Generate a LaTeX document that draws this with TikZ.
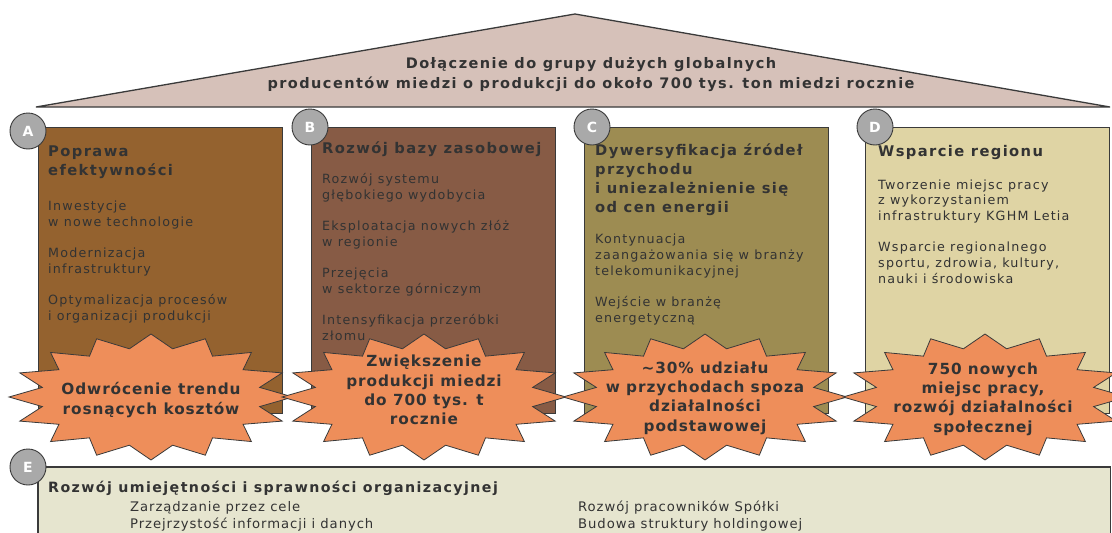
\documentclass[tikz,border=0pt]{standalone}
\usepackage{fontspec}
\setmainfont{DejaVu Sans}
\newfontfamily\mainsp[LetterSpace=9.5]{DejaVu Sans}
\newfontfamily\roofsp[LetterSpace=10]{DejaVu Sans}
\newfontfamily\starsp[LetterSpace=6]{DejaVu Sans}
\newfontfamily\barsp[LetterSpace=10]{DejaVu Sans}
\newfontfamily\itemsp[LetterSpace=7]{DejaVu Sans}
\definecolor{roofcol}{HTML}{D6C1B9}
\definecolor{pilA}{HTML}{94622F}
\definecolor{pilB}{HTML}{875B45}
\definecolor{pilC}{HTML}{9D8C52}
\definecolor{pilD}{HTML}{DFD4A4}
\definecolor{starcol}{HTML}{EE8E5A}
\definecolor{barcol}{HTML}{E6E5CF}
\definecolor{circcol}{HTML}{A9A9A9}
\definecolor{txtcol}{HTML}{333333}
\definecolor{edgecol}{HTML}{3A3A3A}
\tikzset{
  pillar/.style={draw=edgecol, line width=0.9pt, anchor=north west, minimum width=244pt, minimum height=286pt, inner sep=0pt},
  badge/.style={circle, draw=edgecol, line width=0.9pt, fill=circcol, minimum size=36pt, inner sep=0pt, text=white, font=\fontsize{14}{14}\selectfont\bfseries},
  ptitle/.style={anchor=base west, align=left, inner sep=0pt, text=txtcol, font=\mainsp\fontsize{14.7}{18.8}\selectfont\bfseries},
  pbody/.style={anchor=base west, align=left, inner sep=0pt, text=txtcol, font=\mainsp\fontsize{12.7}{15.7}\selectfont},
  startext/.style={align=center, inner sep=0pt, text=txtcol, font=\starsp\fontsize{15.3}{19.3}\selectfont\bfseries},
  starshape/.style={draw=edgecol, line width=0.8pt, fill=starcol},
  rooftext/.style={align=center, inner sep=0pt, text=txtcol, font=\roofsp\fontsize{14.5}{20}\selectfont\bfseries},
  bartitle/.style={anchor=base west, inner sep=0pt, text=txtcol, font=\barsp\fontsize{14.2}{14.2}\selectfont\bfseries},
  baritem/.style={anchor=base west, inner sep=0pt, text=txtcol, font=\itemsp\fontsize{13.2}{13.2}\selectfont},
}
\newcommand\burst[3]{%
  \draw[starshape, shift={(#1)}] plot[samples at={0,...,31}]
    ({#2*(1-0.22*mod(\x,2))*cos(90+\x*11.25)}, {#3*(1-0.22*mod(\x,2))*sin(90+\x*11.25)}) -- cycle;}
\begin{document}
\begin{tikzpicture}[x=1pt,y=-1pt]
\useasboundingbox (0,0) rectangle (1112,533);
\fill[white] (0,0) rectangle (1112,533);
% roof
\draw[fill=roofcol, draw=edgecol, line width=1.3pt, line join=miter] (36,107) -- (575,14) -- (1110,107) -- cycle;
\node[rooftext] (roof) at (591,75) {Dołączenie do grupy dużych globalnych\\producentów miedzi o produkcji do około 700 tys. ton miedzi rocznie};
% pillars
\node[pillar, fill=pilA] (pA) at (38,127) {};
\node[pillar, fill=pilB] (pB) at (311,127) {};
\node[pillar, fill=pilC] (pC) at (584,127) {};
\node[pillar, fill=pilD] (pD) at (865,127) {};
% badges
\node[badge] (cA) at (28,131) {A};
\node[badge] (cB) at (310,127) {B};
\node[badge] (cC) at (592,127) {C};
\node[badge] (cD) at (875,127) {D};
% pillar texts (anchored at the baseline of the last line)
\node[ptitle] (tA) at (48,175) {Poprawa\\efektywności};
\node[pbody] (bA) at (48,320) {Inwestycje\\w nowe technologie\\[15.5pt]Modernizacja\\infrastruktury\\[15.5pt]Optymalizacja procesów\\i organizacji produkcji};
\node[ptitle] (tB) at (322,153) {Rozwój bazy zasobowej};
\node[pbody] (bB) at (322,340) {Rozwój systemu\\głębokiego wydobycia\\[15.5pt]Eksploatacja nowych złóż\\w regionie\\[15.5pt]Przejęcia\\w sektorze górniczym\\[15.5pt]Intensyfikacja przeróbki\\złomu};
\node[ptitle] (tC) at (595,212) {Dywersyfikacja źródeł\\przychodu\\i uniezależnienie się\\od cen energii};
\node[pbody] (bC) at (595,322) {Kontynuacja\\zaangażowania się w branży\\telekomunikacyjnej\\[15.5pt]Wejście w branżę\\energetyczną};
\node[ptitle] (tD) at (878,156) {Wsparcie regionu};
\node[pbody] (bD) at (878,283) {Tworzenie miejsc pracy\\z wykorzystaniem\\infrastruktury KGHM Letia\\[15.5pt]Wsparcie regionalnego\\sportu, zdrowia, kultury,\\nauki i środowiska};
% starbursts
\coordinate (sA) at (151,397);
\coordinate (sB) at (424,397);
\coordinate (sC) at (705,397);
\coordinate (sD) at (985,397);
\burst{sA}{142}{63}
\burst{sB}{142}{63}
\burst{sC}{142}{63}
\burst{sD}{142}{63}
\node[startext] (stA) at (151,400) {Odwrócenie trendu\\rosnących kosztów};
\node[startext] (stB) at (424,390) {Zwiększenie\\produkcji miedzi\\do 700 tys. t\\rocznie};
\node[startext] (stC) at (705,398) {\textasciitilde30\% udziału\\w przychodach spoza\\działalności\\podstawowej};
\node[startext] (stD) at (983,399) {750 nowych\\miejsc pracy,\\rozwój działalności\\społecznej};
% bottom bar
\fill[barcol] (38,467) rectangle (1110,540);
\draw[edgecol, line width=0.9pt] (1110,467) -- (1110,540);
\draw[edgecol, line width=2.6pt] (38,540) -- (38,467) -- (1111,467);
\node[badge] (cE) at (28,467) {E};
\node[bartitle] (eT) at (48,492) {Rozwój umiejętności i sprawności organizacyjnej};
\node[baritem] (e1) at (130,511) {Zarządzanie przez cele};
\node[baritem] (e2) at (130,528) {Przejrzystość informacji i danych};
\node[baritem] (e3) at (578,511) {Rozwój pracowników Spółki};
\node[baritem] (e4) at (578,528) {Budowa struktury holdingowej};
\end{tikzpicture}
\end{document}
